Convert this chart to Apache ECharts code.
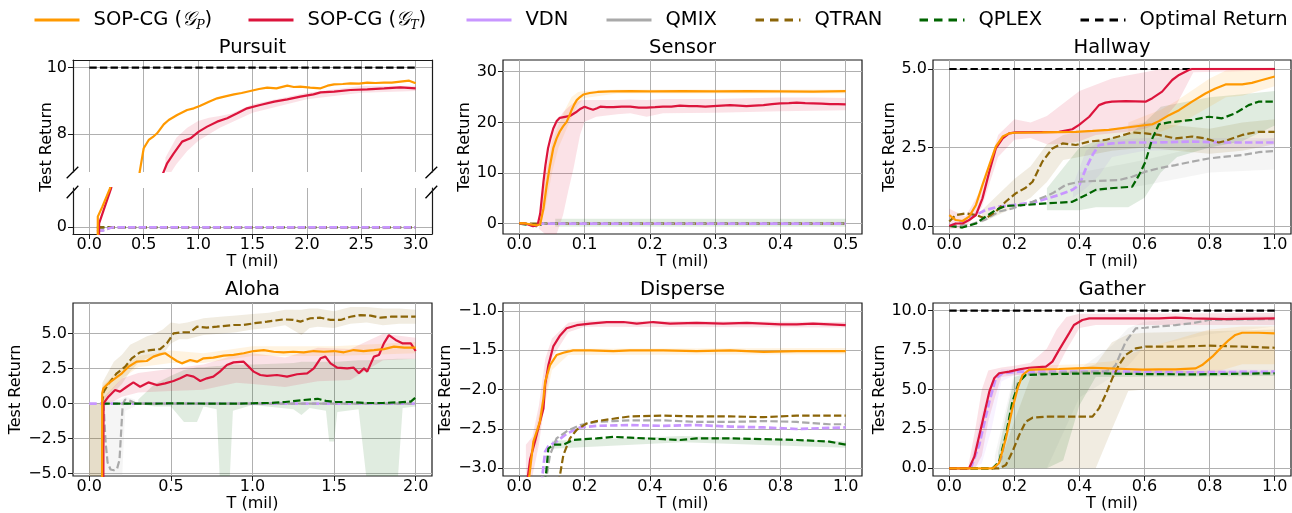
<!DOCTYPE html>
<html>
<head>
<meta charset="utf-8">
<script src="https://cdn.jsdelivr.net/npm/echarts@6/dist/echarts.min.js"></script>
<style>
  html, body { margin: 0; padding: 0; background: #fff; }
  #chart { width: 1292px; height: 513px; }
</style>
</head>
<body>
<div id="chart"></div>
<script>
// ---------------- tick values ----------------
const PURSUIT_X_TICKS = [0, 0.5, 1, 1.5, 2, 2.5, 3];
const PURSUIT_Y_TICKS_TOP = [8, 10];
const PURSUIT_Y_TICKS_BOTTOM = [0];
const SENSOR_X_TICKS = [0, 0.1, 0.2, 0.3, 0.4, 0.5];
const SENSOR_Y_TICKS = [0, 10, 20, 30];
const UNIT_X_TICKS = [0, 0.2, 0.4, 0.6, 0.8, 1.0];
const HALLWAY_Y_TICKS = [0, 2.5, 5];
const ALOHA_X_TICKS = [0, 0.5, 1, 1.5, 2];
const ALOHA_Y_TICKS = [-5, -2.5, 0, 2.5, 5];
const DISPERSE_Y_TICKS = [-3, -2.5, -2, -1.5, -1];
const GATHER_Y_TICKS = [0, 2.5, 5, 7.5, 10];

// ---------------- Pursuit: [T (mil), return] ----------------
const PURSUIT_SOP_P = [[0.077,-1.0],[0.078,0.32],[0.12,0.62],[0.19,1.17],[0.26,2.2],[0.33,3.6],[0.4,5.3],[0.463,6.87],[0.5,7.58],[0.546,7.83],[0.585,7.92],[0.623,8.03],[0.684,8.3],[0.73,8.43],[0.807,8.58],[0.899,8.73],[0.96,8.78],[1.02,8.86],[1.1,8.98],[1.175,9.08],[1.25,9.14],[1.33,9.2],[1.4,9.24],[1.48,9.3],[1.56,9.36],[1.635,9.4],[1.72,9.38],[1.82,9.46],[1.88,9.42],[1.94,9.43],[2.03,9.4],[2.126,9.38],[2.19,9.46],[2.25,9.5],[2.33,9.51],[2.4,9.53],[2.48,9.52],[2.555,9.55],[2.63,9.54],[2.71,9.55],[2.78,9.55],[2.86,9.58],[2.94,9.61],[3.0,9.53]];
const PURSUIT_SOP_T = [[0.089,-1.0],[0.09,0.12],[0.13,0.5],[0.2,1.17],[0.3,2.6],[0.42,4.2],[0.55,5.8],[0.65,6.6],[0.684,6.88],[0.715,7.13],[0.776,7.43],[0.853,7.78],[0.93,7.88],[1.006,8.08],[1.083,8.23],[1.175,8.38],[1.267,8.48],[1.36,8.63],[1.45,8.78],[1.57,8.88],[1.7,8.98],[1.82,9.05],[1.94,9.13],[2.06,9.2],[2.126,9.26],[2.25,9.28],[2.4,9.33],[2.555,9.35],[2.71,9.38],[2.86,9.41],[3.0,9.38]];
const PURSUIT_VDN = [[0.07,-0.08],[0.12,-0.1],[0.18,-0.03],[0.22,0],[3.0,0]];
const PURSUIT_QMIX = [[0.07,-0.12],[0.15,-0.08],[0.2,0],[3.0,0]];
const PURSUIT_QTRAN = [[0.07,0],[3.0,0]];
const PURSUIT_QPLEX = [[0.07,0],[3.0,0]];
const PURSUIT_OPTIMAL = [[0,10],[3.0,10]];
// band rows: [T, lower, upper]
const PURSUIT_SOP_T_BAND = [[0.7,6.6,7.3],[0.8,7.1,7.9],[0.9,7.5,8.2],[1.0,7.8,8.4],[1.1,8.0,8.5],[1.2,8.2,8.55],[1.3,8.35,8.62],[1.5,8.65,8.9],[2.0,9.05,9.25],[2.5,9.25,9.45],[3.0,9.3,9.46]];

// ---------------- Sensor ----------------
const SENSOR_SOP_P = [[0,0.1],[0.01,0.05],[0.02,-0.2],[0.027,-0.3],[0.032,-0.1],[0.037,3.0],[0.042,7.6],[0.047,11.5],[0.052,14.9],[0.057,16.8],[0.062,18.2],[0.067,19.2],[0.0725,20.1],[0.077,21.4],[0.08,22.4],[0.084,23.5],[0.088,24.4],[0.093,25.0],[0.098,25.5],[0.108,25.8],[0.12,26.0],[0.14,26.1],[0.17,26.15],[0.2,26.1],[0.25,26.15],[0.3,26.1],[0.35,26.15],[0.4,26.1],[0.45,26.05],[0.5,26.15]];
const SENSOR_SOP_T = [[0,0.1],[0.01,0.0],[0.021,-0.5],[0.028,-0.3],[0.032,2.0],[0.037,8.3],[0.04,11.5],[0.044,14.9],[0.048,17.0],[0.052,18.8],[0.057,20.2],[0.062,20.9],[0.07,21.1],[0.078,21.3],[0.083,21.7],[0.088,22.1],[0.094,22.7],[0.1,23.1],[0.106,22.8],[0.113,22.5],[0.119,22.8],[0.124,23.1],[0.134,23.0],[0.144,23.0],[0.157,23.1],[0.17,23.1],[0.183,22.9],[0.195,22.9],[0.208,23.0],[0.22,23.1],[0.233,23.1],[0.246,23.3],[0.26,23.2],[0.272,23.2],[0.285,23.1],[0.297,23.2],[0.31,23.3],[0.323,23.4],[0.336,23.3],[0.348,23.2],[0.36,23.3],[0.374,23.4],[0.387,23.6],[0.4,23.75],[0.413,23.8],[0.425,23.9],[0.438,23.8],[0.45,23.75],[0.463,23.7],[0.476,23.6],[0.488,23.6],[0.5,23.55]];
const SENSOR_VDN = [[0.027,0],[0.5,0]];
const SENSOR_QMIX = [[0,0.05],[0.015,0],[0.025,-0.5],[0.03,-0.1],[0.04,0],[0.5,0]];
const SENSOR_QTRAN = [[0,0],[0.5,0]];
const SENSOR_QPLEX = [[0,0],[0.02,-0.3],[0.028,-0.5],[0.035,0],[0.5,0]];
const SENSOR_SOP_T_BAND = [[0.03,-1,0.5],[0.04,-2.1,10],[0.05,-2.1,17],[0.057,-2.1,20],[0.067,1.7,22],[0.075,6.5,23],[0.083,10.9,23.8],[0.093,17.5,24.3],[0.1,20.1,24.4],[0.118,21.1,24.4],[0.15,21.6,24.4],[0.17,21.8,24.5],[0.195,21.1,24.4],[0.22,21.8,24.6],[0.3,21.9,24.6],[0.4,22.2,24.9],[0.45,22.3,24.9],[0.5,22.4,24.8]];
const SENSOR_SOP_P_BAND = [[0.03,-0.5,0.5],[0.04,3,9],[0.05,10,16],[0.06,15,19.5],[0.07,18,22.5],[0.08,21,25],[0.09,23.5,26],[0.1,24.8,26.2],[0.15,25.7,26.5],[0.5,25.7,26.5]];
const SENSOR_QPLEX_BAND = [[0.055,-0.6,1.0],[0.5,-0.6,1.0]];

// ---------------- Hallway ----------------
const HALLWAY_SOP_P = [[0,0.35],[0.02,0.19],[0.041,0.16],[0.061,0.3],[0.082,0.67],[0.102,1.31],[0.123,1.94],[0.143,2.53],[0.164,2.85],[0.184,2.95],[0.2,2.97],[0.286,2.98],[0.389,3.0],[0.44,3.03],[0.49,3.06],[0.54,3.13],[0.593,3.2],[0.624,3.24],[0.644,3.34],[0.675,3.53],[0.706,3.69],[0.746,3.96],[0.787,4.22],[0.818,4.38],[0.849,4.51],[0.9,4.51],[0.93,4.56],[0.961,4.65],[1.0,4.76]];
const HALLWAY_SOP_T = [[0,0],[0.02,0.08],[0.041,0.08],[0.061,0.19],[0.082,0.35],[0.102,0.88],[0.123,1.73],[0.143,2.47],[0.164,2.79],[0.184,2.95],[0.204,2.98],[0.337,3.0],[0.378,3.08],[0.399,3.22],[0.43,3.48],[0.46,3.85],[0.48,3.93],[0.5,3.96],[0.542,3.98],[0.603,3.96],[0.624,4.07],[0.654,4.28],[0.685,4.65],[0.706,4.81],[0.736,4.97],[0.746,5.0],[1.0,5.0]];
const HALLWAY_VDN = [[0,0],[0.051,0.19],[0.112,0.51],[0.153,0.62],[0.2,0.67],[0.266,0.77],[0.337,0.99],[0.378,1.15],[0.4,1.31],[0.42,1.84],[0.44,2.26],[0.46,2.58],[0.5,2.63],[0.542,2.66],[0.644,2.66],[0.746,2.69],[0.849,2.66],[1.0,2.66]];
const HALLWAY_QMIX = [[0,0],[0.061,0.03],[0.112,0.21],[0.153,0.46],[0.194,0.56],[0.256,0.77],[0.317,1.04],[0.358,1.31],[0.399,1.41],[0.46,1.44],[0.52,1.46],[0.562,1.57],[0.603,1.73],[0.644,1.84],[0.695,1.94],[0.746,2.05],[0.797,2.15],[0.849,2.21],[0.9,2.26],[0.95,2.35],[1.0,2.39]];
const HALLWAY_QTRAN = [[0,0.14],[0.02,0.35],[0.051,0.4],[0.082,0.35],[0.112,0.24],[0.143,0.46],[0.174,0.78],[0.204,1.04],[0.235,1.22],[0.256,1.41],[0.286,2.05],[0.317,2.47],[0.348,2.63],[0.389,2.58],[0.43,2.69],[0.48,2.74],[0.52,2.85],[0.562,2.98],[0.603,2.95],[0.644,2.9],[0.695,2.79],[0.746,2.85],[0.787,2.79],[0.828,2.66],[0.849,2.71],[0.9,2.9],[0.95,3.0],[1.0,3.0]];
const HALLWAY_QPLEX = [[0,0],[0.04,-0.05],[0.082,0.08],[0.112,0.3],[0.143,0.51],[0.174,0.64],[0.235,0.67],[0.297,0.72],[0.378,0.77],[0.42,0.99],[0.45,1.15],[0.49,1.2],[0.562,1.25],[0.583,1.62],[0.603,2.05],[0.624,2.79],[0.644,3.24],[0.675,3.3],[0.746,3.38],[0.797,3.48],[0.838,3.43],[0.879,3.59],[0.92,3.85],[0.95,3.96],[1.0,3.96]];
const HALLWAY_OPTIMAL = [[0,5],[1.0,5]];
const HALLWAY_SOP_T_BAND = [[0,-0.1,0.55],[0.05,-0.05,0.3],[0.1,0.6,1.2],[0.15,2.2,2.9],[0.2,2.75,3.4],[0.25,2.8,3.3],[0.3,2.6,3.5],[0.35,2.6,3.9],[0.4,2.7,4.3],[0.45,2.9,4.5],[0.5,2.95,4.7],[0.55,3.0,4.8],[0.6,3.1,4.9],[0.65,3.3,5.0],[0.7,3.9,5.0],[0.75,4.9,5.05],[1.0,4.95,5.05]];
const HALLWAY_SOP_P_BAND = [[0.55,2.9,3.3],[0.6,2.95,3.5],[0.65,3.0,3.7],[0.7,3.2,4.0],[0.75,3.5,4.35],[0.8,3.8,4.7],[0.85,4.1,4.95],[0.9,4.15,5.0],[1.0,4.45,5.05]];
const HALLWAY_QPLEX_BAND = [[0.3,0.5,1.2],[0.4,0.5,2.5],[0.45,0.6,2.7],[0.5,0.6,2.8],[0.55,0.6,2.9],[0.6,0.9,3.3],[0.65,1.7,3.8],[0.7,2.2,3.9],[0.8,2.5,4.1],[0.9,2.7,4.2],[1.0,3.2,4.3]];
const HALLWAY_QTRAN_BAND = [[0.1,0.1,0.5],[0.2,0.6,1.5],[0.25,0.9,1.9],[0.3,1.4,2.6],[0.35,2.1,2.9],[0.4,2.2,3.0],[0.5,2.4,3.1],[0.6,2.5,3.3],[0.7,2.4,3.2],[0.8,2.3,3.1],[0.9,2.4,3.3],[1.0,2.6,3.4]];
const HALLWAY_VDN_BAND = [[0.38,0.9,1.3],[0.42,1.2,2.4],[0.46,1.6,2.7],[0.5,2.2,2.75],[0.6,2.4,2.8],[1.0,2.5,2.8]];
const HALLWAY_QMIX_BAND = [[0.4,1.0,1.7],[0.6,1.3,2.1],[0.8,1.7,2.6],[1.0,1.8,2.8]];

// ---------------- Aloha ----------------
const ALOHA_SOP_P = [[0.078,-6],[0.079,0.74],[0.086,1.1],[0.117,1.45],[0.158,1.81],[0.2,2.17],[0.24,2.64],[0.29,3.0],[0.352,3.05],[0.393,3.36],[0.434,3.52],[0.465,3.6],[0.495,3.36],[0.536,3.05],[0.567,2.88],[0.618,3.12],[0.66,3.0],[0.7,3.24],[0.76,3.29],[0.823,3.43],[0.884,3.48],[0.946,3.6],[1.007,3.76],[1.069,3.83],[1.13,3.71],[1.19,3.67],[1.25,3.71],[1.314,3.67],[1.376,3.76],[1.437,3.71],[1.5,3.76],[1.56,3.67],[1.62,3.83],[1.68,3.76],[1.744,3.83],[1.805,3.9],[1.867,4.07],[1.93,4.0],[2.0,4.0]];
const ALOHA_SOP_T = [[0.086,-6],[0.087,0.02],[0.117,0.5],[0.158,0.98],[0.188,0.86],[0.23,1.21],[0.27,1.52],[0.311,1.21],[0.362,1.52],[0.413,1.33],[0.465,1.45],[0.516,1.62],[0.557,1.81],[0.598,2.05],[0.639,1.93],[0.68,1.62],[0.72,1.81],[0.76,1.93],[0.8,2.29],[0.843,2.76],[0.884,2.95],[0.946,3.0],[1.007,2.29],[1.048,2.05],[1.089,1.98],[1.15,2.05],[1.212,1.93],[1.273,2.1],[1.335,2.17],[1.376,2.52],[1.417,3.24],[1.447,3.36],[1.478,2.88],[1.519,2.57],[1.58,2.52],[1.62,2.57],[1.652,2.17],[1.683,2.52],[1.703,2.29],[1.744,3.36],[1.775,3.48],[1.805,4.31],[1.836,4.9],[1.877,4.55],[1.918,4.31],[1.97,4.31],[2.0,3.76]];
const ALOHA_VDN = [[0,0],[2.0,0]];
const ALOHA_QMIX = [[0.08,0],[0.088,-0.2],[0.1,-2.8],[0.112,-4.2],[0.13,-4.7],[0.15,-4.75],[0.17,-4.65],[0.185,-4.0],[0.195,-2.0],[0.205,0.0],[0.22,0.3],[0.25,0.2],[0.29,0.0],[2.0,0]];
const ALOHA_QTRAN = [[0.078,0],[0.088,0.86],[0.127,1.57],[0.168,2.17],[0.22,2.64],[0.26,3.24],[0.311,3.67],[0.373,3.83],[0.434,3.9],[0.475,4.31],[0.516,5.02],[0.567,5.1],[0.618,5.1],[0.66,5.5],[0.72,5.43],[0.782,5.5],[0.884,5.62],[0.946,5.62],[1.007,5.74],[1.089,5.86],[1.19,6.02],[1.25,5.98],[1.294,5.86],[1.355,6.1],[1.417,6.14],[1.478,5.98],[1.54,5.98],[1.6,6.21],[1.662,6.33],[1.724,6.29],[1.785,6.14],[1.846,6.21],[1.908,6.21],[2.0,6.21]];
const ALOHA_QPLEX = [[0.08,0],[0.3,0],[0.5,0.02],[0.9,0.0],[1.1,0.05],[1.2,0.12],[1.3,0.25],[1.4,0.35],[1.45,0.2],[1.5,0.12],[1.6,0.12],[1.7,0.05],[1.8,0.05],[1.9,0.1],[1.97,0.15],[2.0,0.45]];
const ALOHA_START_BAND = [[0,-6,0],[0.078,-6,0]];
const ALOHA_QMIX_BAND = [[0.08,-5.5,0.2],[0.2,-5.5,0.3],[0.22,-0.5,0.5],[0.28,-0.2,0.3]];
const ALOHA_QTRAN_BAND = [[0.08,-0.2,1.5],[0.15,0.8,3.0],[0.2,1.4,3.5],[0.25,2.3,4.2],[0.3,2.9,4.5],[0.35,3.2,4.8],[0.4,3.3,5.0],[0.45,3.5,5.3],[0.5,4.3,5.8],[0.55,4.6,5.7],[0.6,4.6,5.8],[0.7,4.9,6.1],[0.8,5.0,6.2],[0.9,5.1,6.3],[1.0,5.3,6.4],[1.1,5.4,6.5],[1.2,5.6,6.7],[1.3,4.9,6.7],[1.35,5.4,6.8],[1.4,5.5,6.8],[1.5,5.4,6.6],[1.6,5.7,6.9],[1.7,5.8,6.9],[1.8,5.6,6.8],[1.9,5.7,6.8],[2.0,5.7,6.7]];
const ALOHA_SOP_P_BAND = [[0.08,0.2,1.3],[0.2,1.8,2.6],[0.3,2.6,3.4],[0.5,2.9,3.8],[0.7,2.9,3.6],[1.0,3.4,4.1],[1.5,3.4,4.1],[2.0,3.6,4.4]];
const ALOHA_SOP_T_BAND = [[0.09,-0.2,0.5],[0.2,0.5,1.8],[0.3,0.8,2.2],[0.5,0.9,2.5],[0.7,1.0,2.8],[0.9,1.5,3.5],[1.0,1.4,3.6],[1.2,1.2,3.3],[1.4,1.6,4.0],[1.6,1.7,3.9],[1.8,3.1,5.0],[2.0,3.2,4.7]];
const ALOHA_QPLEX_BAND = [[0.3,0,0.3],[0.4,-0.2,1.4],[0.5,-0.2,2.0],[0.58,-1.3,2.4],[0.66,-1.3,2.6],[0.7,-0.2,2.6],[0.78,-0.4,2.7],[0.8,-5.5,2.7],[0.86,-5.5,2.8],[0.88,-0.5,2.8],[1.0,-0.1,2.8],[1.25,-0.4,2.9],[1.3,-0.8,3.0],[1.35,-0.3,3.0],[1.45,-0.5,3.0],[1.47,-2.7,3.0],[1.5,-2.7,3.0],[1.52,-0.6,3.0],[1.65,-0.4,3.1],[1.7,-5.5,3.1],[1.89,-5.5,3.2],[1.92,-0.3,3.2],[2.0,-0.2,3.2]];

// ---------------- Disperse ----------------
const DISPERSE_SOP_P = [[0.025,-3.3],[0.043,-2.66],[0.063,-2.41],[0.074,-2.11],[0.079,-1.9],[0.094,-1.69],[0.114,-1.56],[0.135,-1.53],[0.165,-1.5],[0.217,-1.5],[0.288,-1.51],[0.339,-1.5],[0.441,-1.5],[0.543,-1.51],[0.646,-1.5],[0.748,-1.52],[0.85,-1.51],[1.0,-1.51]];
const DISPERSE_SOP_T = [[0.02,-3.3],[0.033,-2.89],[0.048,-2.66],[0.063,-2.41],[0.074,-2.24],[0.079,-1.94],[0.089,-1.69],[0.104,-1.45],[0.125,-1.31],[0.145,-1.22],[0.176,-1.18],[0.217,-1.16],[0.268,-1.14],[0.319,-1.14],[0.36,-1.16],[0.41,-1.14],[0.462,-1.16],[0.543,-1.15],[0.625,-1.16],[0.697,-1.15],[0.748,-1.16],[0.8,-1.17],[0.85,-1.17],[0.9,-1.16],[0.95,-1.17],[1.0,-1.18]];
const DISPERSE_VDN = [[0.068,-3.2],[0.079,-2.79],[0.089,-2.72],[0.114,-2.66],[0.145,-2.56],[0.186,-2.48],[0.237,-2.46],[0.339,-2.45],[0.441,-2.46],[0.543,-2.45],[0.646,-2.47],[0.748,-2.48],[0.85,-2.5],[1.0,-2.48]];
const DISPERSE_QMIX = [[0.08,-3.2],[0.094,-2.83],[0.114,-2.62],[0.145,-2.53],[0.186,-2.45],[0.237,-2.41],[0.288,-2.4],[0.339,-2.39],[0.441,-2.39],[0.543,-2.41],[0.646,-2.41],[0.748,-2.4],[0.85,-2.41],[0.95,-2.44],[1.0,-2.44]];
const DISPERSE_QTRAN = [[0.12,-3.2],[0.135,-2.83],[0.155,-2.62],[0.176,-2.51],[0.206,-2.43],[0.237,-2.4],[0.288,-2.37],[0.339,-2.34],[0.441,-2.33],[0.543,-2.34],[0.646,-2.34],[0.748,-2.35],[0.85,-2.33],[1.0,-2.33]];
const DISPERSE_QPLEX = [[0.079,-3.2],[0.089,-2.75],[0.104,-2.7],[0.135,-2.7],[0.165,-2.64],[0.196,-2.63],[0.237,-2.62],[0.288,-2.6],[0.339,-2.61],[0.39,-2.62],[0.441,-2.63],[0.492,-2.64],[0.543,-2.62],[0.646,-2.62],[0.748,-2.63],[0.85,-2.64],[0.95,-2.66],[1.0,-2.7]];
const DISPERSE_SOP_T_BAND = [[0.02,-3.3,-2.7],[0.04,-3.1,-2.6],[0.06,-2.7,-2.2],[0.08,-2.1,-1.6],[0.1,-1.6,-1.35],[0.15,-1.27,-1.15],[0.2,-1.2,-1.12],[1.0,-1.21,-1.14]];
const DISPERSE_SOP_P_BAND = [[0.05,-2.8,-2.5],[0.1,-1.75,-1.6],[0.15,-1.56,-1.48],[1.0,-1.55,-1.47]];
const DISPERSE_QPLEX_BAND = [[0.1,-2.75,-2.65],[0.5,-2.67,-2.59],[1.0,-2.74,-2.66]];

// ---------------- Gather ----------------
const GATHER_SOP_P = [[0,0],[0.133,0],[0.153,0.32],[0.174,1.9],[0.194,3.8],[0.21,5.07],[0.225,5.92],[0.245,6.24],[0.276,6.28],[0.337,6.3],[0.389,6.34],[0.44,6.38],[0.49,6.34],[0.542,6.3],[0.593,6.26],[0.644,6.28],[0.695,6.28],[0.757,6.34],[0.777,6.55],[0.808,7.08],[0.838,7.72],[0.859,8.14],[0.879,8.46],[0.9,8.6],[0.95,8.6],[1.0,8.56]];
const GATHER_SOP_T = [[0,0],[0.061,0],[0.077,0.74],[0.102,2.96],[0.123,4.86],[0.138,5.71],[0.153,6.03],[0.184,6.13],[0.215,6.28],[0.245,6.38],[0.297,6.45],[0.317,6.77],[0.337,7.5],[0.368,8.56],[0.383,9.09],[0.409,9.41],[0.43,9.51],[0.542,9.51],[0.644,9.51],[0.695,9.56],[0.746,9.51],[0.849,9.47],[1.0,9.51]];
const GATHER_VDN = [[0,0],[0.066,0],[0.092,1.48],[0.123,4.23],[0.143,5.71],[0.164,6.03],[0.215,6.13],[0.337,6.13],[0.542,6.13],[0.746,6.09],[1.0,6.13]];
const GATHER_QMIX = [[0,0],[0.14,0],[0.16,0.6],[0.185,3.2],[0.21,5.4],[0.235,5.95],[0.3,6.05],[0.4,6.1],[0.48,6.15],[0.5,6.3],[0.511,6.55],[0.542,8.03],[0.573,8.88],[0.603,8.92],[0.695,9.09],[0.746,9.2],[0.797,9.41],[1.0,9.47]];
const GATHER_QTRAN = [[0,0],[0.153,0],[0.174,0.21],[0.194,1.06],[0.215,2.11],[0.235,2.96],[0.256,3.21],[0.297,3.28],[0.358,3.28],[0.44,3.28],[0.46,3.8],[0.48,4.65],[0.501,5.71],[0.521,6.55],[0.542,7.19],[0.573,7.61],[0.603,7.72],[0.695,7.72],[0.797,7.78],[0.9,7.72],[1.0,7.65]];
const GATHER_QPLEX = [[0,0],[0.133,0],[0.153,0.42],[0.174,2.11],[0.194,4.23],[0.215,5.5],[0.235,5.92],[0.286,5.96],[0.44,6.03],[0.593,5.98],[0.746,5.96],[1.0,6.03]];
const GATHER_OPTIMAL = [[0,10],[1.0,10]];
const GATHER_SOP_T_BAND = [[0.06,0,0.3],[0.08,0,2.5],[0.1,0.8,5.0],[0.12,3.0,6.2],[0.14,4.5,6.3],[0.16,5.8,6.4],[0.2,5.9,6.5],[0.25,6.0,6.7],[0.3,6.1,7.6],[0.33,6.3,8.8],[0.36,7.5,9.6],[0.4,8.9,9.8],[0.45,9.1,9.8],[1.0,9.1,9.85]];
const GATHER_VDN_BAND = [[0.07,0,0.8],[0.1,0.3,3.5],[0.13,2.5,5.5],[0.16,5.5,6.3],[0.2,5.9,6.3],[1.0,5.95,6.25]];
const GATHER_QMIX_BAND = [[0.14,0,0.8],[0.2,0,6.1],[0.3,0,6.2],[0.4,4.5,6.3],[0.5,5.8,7.8],[0.55,6.5,8.9],[0.6,7.7,9.3],[0.8,8.5,9.6],[1.0,9.0,9.7]];
const GATHER_QPLEX_BAND = [[0.15,0,1.0],[0.2,0,5.8],[0.25,0,6.1],[0.3,0,6.1],[0.35,0.5,6.1],[0.4,4.0,6.2],[0.45,5.8,6.2],[1.0,5.85,6.15]];
const GATHER_QTRAN_BAND = [[0.16,0,0.6],[0.2,0,3.0],[0.25,0,5.8],[0.3,0,6.1],[0.4,0,6.3],[0.45,0,6.6],[0.5,2.5,8.0],[0.55,4.9,8.5],[0.6,5.0,8.6],[0.8,5.0,8.7],[1.0,5.0,8.8]];
const GATHER_SOP_P_BAND = [[0.25,6.0,6.5],[0.4,6.0,6.6],[0.5,6.0,6.8],[0.6,6.0,7.6],[0.7,6.0,8.2],[0.8,6.0,8.8],[0.9,6.6,9.0],[1.0,6.6,9.0]];

// ---------------- styling ----------------
const FONT = 'DejaVu Sans';
const NAMES = ['SOP-CG (GP)', 'SOP-CG (GT)', 'VDN', 'QMIX', 'QTRAN', 'QPLEX', 'Optimal Return'];
const COLOR = {
  'SOP-CG (GP)': '#ff9900',
  'SOP-CG (GT)': '#dc143c',
  'VDN': '#c896ff',
  'QMIX': '#a9a9a9',
  'QTRAN': '#8b6508',
  'QPLEX': '#006400',
  'Optimal Return': '#000000'
};
const DASHED = { 'VDN': true, 'QMIX': true, 'QTRAN': true, 'QPLEX': true, 'Optimal Return': true };
const DASH = [7.4, 3.2];

// grid boxes (pixels) and axis ranges
const GRIDS = [
  { id: 'pursuitTop', left: 73,  top: 60,  width: 359, height: 112, x: [-0.15, 3.15],   y: [6.868, 10.231] },
  { id: 'pursuitBot', left: 73,  top: 188, width: 359, height: 46,  x: [-0.15, 3.15],   y: [-0.201, 1.18] },
  { id: 'sensor',     left: 503, top: 60,  width: 359, height: 174, x: [-0.025, 0.525], y: [-2.03, 32.31] },
  { id: 'hallway',    left: 933, top: 60,  width: 358, height: 174, x: [-0.05, 1.05],   y: [-0.255, 5.287] },
  { id: 'aloha',      left: 73,  top: 303, width: 359, height: 173, x: [-0.1, 2.1],     y: [-5.164, 7.19] },
  { id: 'disperse',   left: 503, top: 303, width: 359, height: 173, x: [-0.05, 1.05],   y: [-3.098, -0.898] },
  { id: 'gather',     left: 933, top: 303, width: 358, height: 173, x: [-0.05, 1.05],   y: [-0.489, 10.489] }
];
const X_TICKS = [PURSUIT_X_TICKS, PURSUIT_X_TICKS, SENSOR_X_TICKS, UNIT_X_TICKS, ALOHA_X_TICKS, UNIT_X_TICKS, UNIT_X_TICKS];
const Y_TICKS = [PURSUIT_Y_TICKS_TOP, PURSUIT_Y_TICKS_BOTTOM, SENSOR_Y_TICKS, HALLWAY_Y_TICKS, ALOHA_Y_TICKS, DISPERSE_Y_TICKS, GATHER_Y_TICKS];
const Y_DECIMALS = [0, 0, 0, 1, 1, 1, 1];
const Y_NAME_GAP = [0, 0, 27.5, 34, 46.7, 46.7, 42.5];
const X_NAME_GAP = [0, 16.7, 16.7, 16.7, 18, 18, 18];
const TITLES = [
  { text: 'Pursuit',  cx: 252.5,  top: 38 },
  { text: 'Sensor',   cx: 682.5,  top: 38 },
  { text: 'Hallway',  cx: 1112,   top: 38 },
  { text: 'Aloha',    cx: 252.5,  top: 280 },
  { text: 'Disperse', cx: 682.5,  top: 280 },
  { text: 'Gather',   cx: 1112,   top: 280 }
];
const LEGEND_LEFT = [33, 247, 465, 605, 754, 918, 1079];

const SPINE = '#1a1a1a';
const GRIDLINE = '#b0b0b0';

function fmtNum(v, d) {
  const s = Math.abs(v).toFixed(d);
  return (v < -1e-9 ? '\u2212' : '') + s;
}

const hasFrame = i => i >= 2;   // Pursuit panels draw their spines through axis lines
const grid = GRIDS.map((g, i) => ({
  left: g.left, top: g.top, width: g.width, height: g.height,
  show: hasFrame(i), borderColor: SPINE, borderWidth: 1.2, backgroundColor: 'transparent'
}));

const xAxis = GRIDS.map((g, i) => ({
  type: 'value', gridIndex: i, min: g.x[0], max: g.x[1], position: 'bottom',
  name: i === 0 ? '' : 'T (mil)', nameLocation: 'middle', nameGap: X_NAME_GAP[i],
  nameTextStyle: { fontFamily: FONT, fontSize: 16, color: '#000' },
  axisLine: { show: i === 1, onZero: false, lineStyle: { color: SPINE, width: 1.2 } },
  axisTick: { show: i !== 0, length: 5, lineStyle: { color: SPINE, width: 1 }, customValues: X_TICKS[i] },
  axisLabel: { show: i !== 0, margin: 3, fontFamily: FONT, fontSize: 16, color: '#000',
               customValues: X_TICKS[i], formatter: v => fmtNum(v, 1) },
  splitLine: { show: true, lineStyle: { color: GRIDLINE, width: 1 } }
}));
// top spine for the upper Pursuit panel
xAxis.push({
  type: 'value', gridIndex: 0, min: GRIDS[0].x[0], max: GRIDS[0].x[1], position: 'top',
  axisLine: { show: true, onZero: false, lineStyle: { color: SPINE, width: 1.2 } },
  axisTick: { show: false }, axisLabel: { show: false }, splitLine: { show: false }
});

const yAxis = GRIDS.map((g, i) => ({
  type: 'value', gridIndex: i, min: g.y[0], max: g.y[1], position: 'left',
  name: i <= 1 ? '' : 'Test Return', nameLocation: 'middle', nameGap: Y_NAME_GAP[i],
  nameTextStyle: { fontFamily: FONT, fontSize: 16, color: '#000' },
  axisLine: { show: i <= 1, onZero: false, lineStyle: { color: SPINE, width: 1.2 } },
  axisTick: { show: true, length: 5, lineStyle: { color: SPINE, width: 1 }, customValues: Y_TICKS[i] },
  axisLabel: { show: true, margin: 6, fontFamily: FONT, fontSize: 16, color: '#000',
               customValues: Y_TICKS[i], formatter: v => fmtNum(v, Y_DECIMALS[i]) },
  splitLine: { show: true, lineStyle: { color: GRIDLINE, width: 1 } }
}));
// right spines for both Pursuit panels
[0, 1].forEach(gi => yAxis.push({
  type: 'value', gridIndex: gi, min: GRIDS[gi].y[0], max: GRIDS[gi].y[1], position: 'right',
  axisLine: { show: true, onZero: false, lineStyle: { color: SPINE, width: 1.2 } },
  axisTick: { show: false }, axisLabel: { show: false }, splitLine: { show: false }
}));

function line(name, data, axisIdx) {
  return {
    type: 'line', name, data, xAxisIndex: axisIdx, yAxisIndex: axisIdx,
    symbol: 'none', showSymbol: false, clip: true, silent: true, z: 3,
    lineStyle: { color: COLOR[name], width: name === 'VDN' ? 2.7 : 2.2, type: DASHED[name] ? DASH : 'solid' },
    itemStyle: { color: COLOR[name] }
  };
}

function band(name, rows, axisIdx, alpha) {
  return {
    type: 'custom', data: rows, xAxisIndex: axisIdx, yAxisIndex: axisIdx,
    silent: true, z: 1, encode: { x: 0, y: [1, 2] },
    renderItem: (params, api) => {
      if (params.dataIndex !== 0) return null;
      const upper = rows.map(r => api.coord([r[0], r[2]]));
      const lower = rows.map(r => api.coord([r[0], r[1]])).reverse();
      const cs = params.coordSys;
      return {
        type: 'polygon',
        shape: { points: upper.concat(lower) },
        style: { fill: COLOR[name], opacity: alpha || 0.12 },
        clipPath: { type: 'rect', shape: { x: cs.x, y: cs.y, width: cs.width, height: cs.height } }
      };
    }
  };
}

// line series per panel, listed bottom to top
const PURSUIT_LINES = [['Optimal Return', PURSUIT_OPTIMAL], ['QPLEX', PURSUIT_QPLEX], ['QMIX', PURSUIT_QMIX], ['QTRAN', PURSUIT_QTRAN], ['VDN', PURSUIT_VDN], ['SOP-CG (GT)', PURSUIT_SOP_T], ['SOP-CG (GP)', PURSUIT_SOP_P]];
const PANEL_LINES = [
  PURSUIT_LINES,
  PURSUIT_LINES,
  [['QPLEX', SENSOR_QPLEX], ['QTRAN', SENSOR_QTRAN], ['QMIX', SENSOR_QMIX], ['VDN', SENSOR_VDN], ['SOP-CG (GT)', SENSOR_SOP_T], ['SOP-CG (GP)', SENSOR_SOP_P]],
  [['Optimal Return', HALLWAY_OPTIMAL], ['VDN', HALLWAY_VDN], ['QMIX', HALLWAY_QMIX], ['QTRAN', HALLWAY_QTRAN], ['QPLEX', HALLWAY_QPLEX], ['SOP-CG (GT)', HALLWAY_SOP_T], ['SOP-CG (GP)', HALLWAY_SOP_P]],
  [['VDN', ALOHA_VDN], ['QMIX', ALOHA_QMIX], ['QTRAN', ALOHA_QTRAN], ['QPLEX', ALOHA_QPLEX], ['SOP-CG (GT)', ALOHA_SOP_T], ['SOP-CG (GP)', ALOHA_SOP_P]],
  [['VDN', DISPERSE_VDN], ['QMIX', DISPERSE_QMIX], ['QTRAN', DISPERSE_QTRAN], ['QPLEX', DISPERSE_QPLEX], ['SOP-CG (GT)', DISPERSE_SOP_T], ['SOP-CG (GP)', DISPERSE_SOP_P]],
  [['Optimal Return', GATHER_OPTIMAL], ['VDN', GATHER_VDN], ['QMIX', GATHER_QMIX], ['QTRAN', GATHER_QTRAN], ['QPLEX', GATHER_QPLEX], ['SOP-CG (GT)', GATHER_SOP_T], ['SOP-CG (GP)', GATHER_SOP_P]]
];
const PANEL_BANDS = [
  [['SOP-CG (GT)', PURSUIT_SOP_T_BAND]],
  [],
  [['QPLEX', SENSOR_QPLEX_BAND], ['SOP-CG (GP)', SENSOR_SOP_P_BAND], ['SOP-CG (GT)', SENSOR_SOP_T_BAND]],
  [['QMIX', HALLWAY_QMIX_BAND], ['VDN', HALLWAY_VDN_BAND], ['QTRAN', HALLWAY_QTRAN_BAND], ['QPLEX', HALLWAY_QPLEX_BAND], ['SOP-CG (GP)', HALLWAY_SOP_P_BAND], ['SOP-CG (GT)', HALLWAY_SOP_T_BAND]],
  [['QTRAN', ALOHA_START_BAND, 0.22], ['QMIX', ALOHA_QMIX_BAND], ['QPLEX', ALOHA_QPLEX_BAND], ['QTRAN', ALOHA_QTRAN_BAND], ['SOP-CG (GT)', ALOHA_SOP_T_BAND], ['SOP-CG (GP)', ALOHA_SOP_P_BAND]],
  [['QPLEX', DISPERSE_QPLEX_BAND], ['SOP-CG (GP)', DISPERSE_SOP_P_BAND], ['SOP-CG (GT)', DISPERSE_SOP_T_BAND]],
  [['QTRAN', GATHER_QTRAN_BAND], ['QMIX', GATHER_QMIX_BAND], ['QPLEX', GATHER_QPLEX_BAND], ['VDN', GATHER_VDN_BAND], ['SOP-CG (GP)', GATHER_SOP_P_BAND], ['SOP-CG (GT)', GATHER_SOP_T_BAND]]
];

const series = [];
PANEL_BANDS.forEach((bands, i) => bands.forEach(b => series.push(band(b[0], b[1], i, b[2]))));
PANEL_LINES.forEach((lines, i) => lines.forEach(l => series.push(line(l[0], l[1], i))));

const LEGEND_RICH = {
  a: { fontFamily: FONT, fontSize: 19.5, color: '#000', lineHeight: 24 },
  g: { fontFamily: 'DejaVu Serif', fontStyle: 'italic', fontSize: 19.5, color: '#000', lineHeight: 24 },
  s: { fontFamily: 'DejaVu Serif', fontStyle: 'italic', fontSize: 12.5, color: '#000', lineHeight: 13, verticalAlign: 'bottom' }
};
function legendLabel(name) {
  if (name === 'SOP-CG (GP)') return '{a|SOP-CG (}{g|\uD835\uDCA2}{s|P}{a|)}';
  if (name === 'SOP-CG (GT)') return '{a|SOP-CG (}{g|\uD835\uDCA2}{s|T}{a|)}';
  return '{a|' + name + '}';
}
const legend = NAMES.map((name, i) => ({
  data: [{
    name,
    itemStyle: { opacity: 0 },
    lineStyle: { type: DASHED[name] && name !== 'VDN' && name !== 'QMIX' ? [8.5, 6] : 'solid', width: 3 }
  }],
  left: LEGEND_LEFT[i], top: 10, padding: 0, itemWidth: 45, itemHeight: 14,
  selectedMode: false,
  formatter: legendLabel,
  textStyle: { fontFamily: FONT, fontSize: 19.5, color: '#000', padding: [0, 0, 0, 9], rich: LEGEND_RICH }
}));

const title = TITLES.map(t => ({
  text: t.text, left: t.cx, top: t.top, textAlign: 'center', padding: 0,
  textStyle: { fontFamily: FONT, fontSize: 19.5, fontWeight: 'normal', color: '#000' }
}));

// break marks and the shared y label of the split Pursuit panel
const BREAK = { stroke: '#000', lineWidth: 1.3 };
const graphic = [
  { type: 'line', shape: { x1: 66.7, y1: 178.3, x2: 78.3, y2: 166.7 }, style: BREAK, silent: true },
  { type: 'line', shape: { x1: 66.7, y1: 198.3, x2: 78.3, y2: 185.7 }, style: BREAK, silent: true },
  { type: 'line', shape: { x1: 425.5, y1: 178.3, x2: 437.2, y2: 166.7 }, style: BREAK, silent: true },
  { type: 'line', shape: { x1: 425.5, y1: 198.3, x2: 437.2, y2: 185.7 }, style: BREAK, silent: true },
  { type: 'text', x: 46.7, y: 147, rotation: Math.PI / 2, silent: true,
    style: { text: 'Test Return', font: '16px "DejaVu Sans"', fill: '#000', align: 'center', verticalAlign: 'middle' } }
];

const chart = echarts.init(document.getElementById('chart'), null, { renderer: 'canvas' });
chart.setOption({
  animation: false,
  backgroundColor: '#ffffff',
  title, legend, grid, xAxis, yAxis, series, graphic
});
</script>
</body>
</html>
